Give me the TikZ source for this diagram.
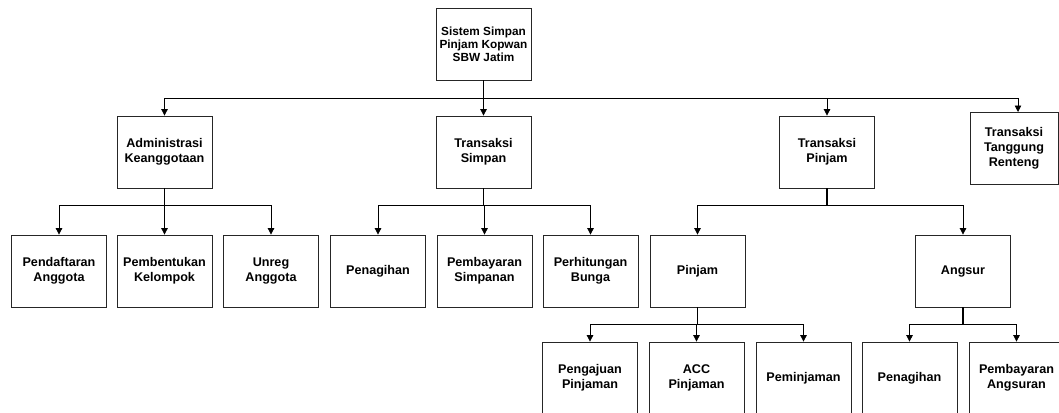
\documentclass[tikz,border=0pt]{standalone}
\usepackage{fontspec}
\setmainfont{Liberation Sans}
\usetikzlibrary{arrows.meta}
\begin{document}
\begin{tikzpicture}[x=1pt,y=-1pt,
  box/.style={draw=black!85, line width=0.8pt, fill=white, minimum width=95pt,
    minimum height=72pt, inner sep=1pt, align=center,
    font=\fontsize{12.6}{15.2}\selectfont\bfseries},
  topbox/.style={box, font=\fontsize{11.8}{13}\selectfont\bfseries},
  stem/.style={line width=1.5pt},
  branch/.style={line width=0.8pt, -{Triangle[width=6.5pt,length=6.5pt]}}]
\clip (0,0) rectangle (1059,412);
\useasboundingbox (0,0) rectangle (1059,412);

% levels of the connector buses
\coordinate (busA) at (0,98);
\coordinate (busB) at (0,205);
\coordinate (busC) at (0,324);

% root
\node[topbox] (root) at (483.5,44) {Sistem Simpan\\Pinjam Kopwan\\SBW Jatim};

% second level
\node[box] (adm) at (164.5,152) {Administrasi\\Keanggotaan};
\node[box] (tsim) at (483.5,152) {Transaksi\\Simpan};
\node[box] (tpin) at (827,152) {Transaksi\\Pinjam};
\node[box, minimum width=88pt] (ttr) at (1014,148) {Transaksi\\Tanggung\\Renteng};
\coordinate (ttrin) at (1018,112);

% third level
\node[box] (daftar) at (59,271) {Pendaftaran\\Anggota};
\node[box] (bentuk) at (164.5,271) {Pembentukan\\Kelompok};
\node[box] (unreg) at (271,271) {Unreg\\Anggota};
\node[box] (tagih) at (378,271) {Penagihan};
\node[box] (bayars) at (484.5,271) {Pembayaran\\Simpanan};
\node[box] (bunga) at (590.5,271) {Perhitungan\\Bunga};
\node[box] (pinjam) at (697.5,271) {Pinjam};
\node[box] (angsur) at (963,271) {Angsur};

% fourth level
\node[box] (ajuan) at (590,378) {Pengajuan\\Pinjaman};
\node[box] (acc) at (696.5,378) {ACC\\Pinjaman};
\node[box] (minjam) at (803.5,378) {Peminjaman};
\node[box] (tagih2) at (909.5,378) {Penagihan};
\node[box] (bayara) at (1016.5,378) {Pembayaran\\Angsuran};

% root to second level
\draw[stem] (root.south) -- (root.south |- busA);
\draw[line width=0.8pt] (adm.north |- busA) -- (ttrin |- busA);
\foreach \c in {adm,tsim,tpin} \draw[branch] (\c.north |- busA) -- (\c.north);
\draw[branch] (ttrin |- busA) -- (ttrin);

% second to third level
\draw[stem] (adm.south) -- (adm.south |- busB);
\draw[line width=0.8pt] (daftar.north |- busB) -- (unreg.north |- busB);
\foreach \c in {daftar,bentuk,unreg} \draw[branch] (\c.north |- busB) -- (\c.north);

\draw[stem] (tsim.south) -- (tsim.south |- busB);
\draw[line width=0.8pt] (tagih.north |- busB) -- (bunga.north |- busB);
\foreach \c in {tagih,bayars,bunga} \draw[branch] (\c.north |- busB) -- (\c.north);

\draw[stem] (tpin.south) -- (tpin.south |- busB);
\draw[line width=0.8pt] (pinjam.north |- busB) -- (angsur.north |- busB);
\foreach \c in {pinjam,angsur} \draw[branch] (\c.north |- busB) -- (\c.north);

% third to fourth level
\draw[stem] (pinjam.south) -- (pinjam.south |- busC);
\draw[line width=0.8pt] (ajuan.north |- busC) -- (minjam.north |- busC);
\foreach \c in {ajuan,acc,minjam} \draw[branch] (\c.north |- busC) -- (\c.north);

\draw[stem] (angsur.south) -- (angsur.south |- busC);
\draw[line width=0.8pt] (tagih2.north |- busC) -- (bayara.north |- busC);
\foreach \c in {tagih2,bayara} \draw[branch] (\c.north |- busC) -- (\c.north);
\end{tikzpicture}
\end{document}
